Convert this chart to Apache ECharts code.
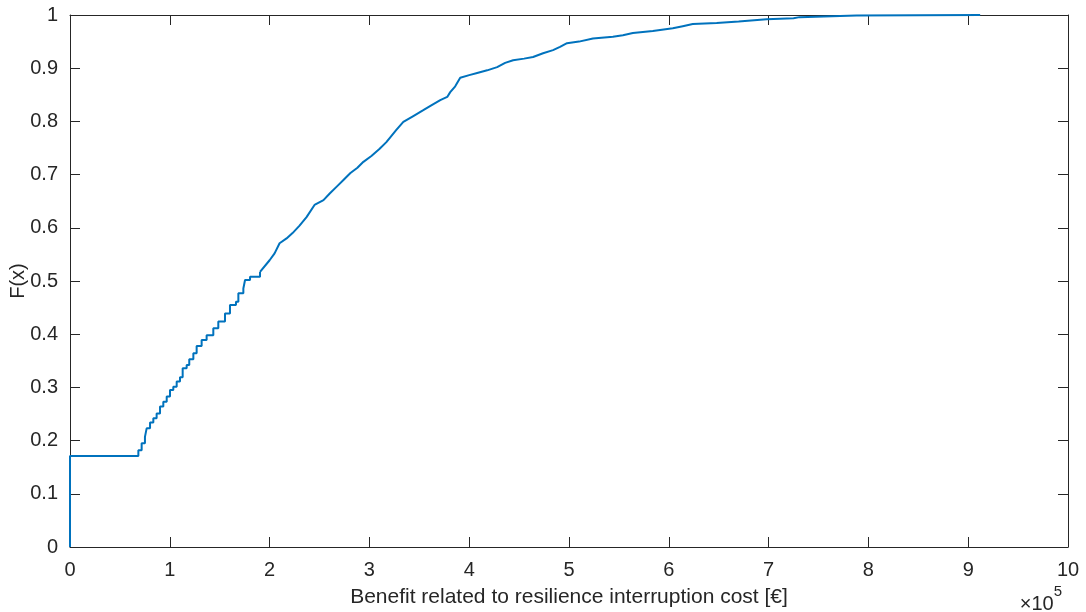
<!DOCTYPE html>
<html>
<head>
<meta charset="utf-8">
<script src="https://cdn.jsdelivr.net/npm/echarts@6/dist/echarts.min.js"></script>
<style>
html,body{margin:0;padding:0;background:#fff;}
#chart{width:1086px;height:612px;}
</style>
</head>
<body>
<div id="chart"></div>
<script>
// Benefit values in units of 10^5 € — lower, coarse-step part of the ECDF
const lowerX = [
  0, 0, 0.685, 0.718, 0.751, 0.768, 0.802, 0.835, 0.868, 0.902, 0.935, 0.969,
  1.002, 1.035, 1.069, 1.102, 1.129, 1.169, 1.195, 1.236, 1.269, 1.319, 1.369,
  1.436, 1.486, 1.553, 1.603, 1.663, 1.687, 1.737, 1.754, 1.804, 1.904
];
const lowerF = [
  0, 0.171, 0.182, 0.195, 0.207, 0.223, 0.234, 0.242, 0.251, 0.264, 0.273, 0.283,
  0.295, 0.301, 0.311, 0.319, 0.336, 0.342, 0.353, 0.364, 0.378, 0.389, 0.398,
  0.411, 0.424, 0.439, 0.455, 0.461, 0.477, 0.486, 0.502, 0.508, 0.517
];
// Upper part of the ECDF (fine steps, read as a curve)
const upperX = [
  1.904, 2.00, 2.05, 2.10, 2.17, 2.23, 2.30, 2.37, 2.45, 2.54, 2.60, 2.67, 2.74, 2.81,
  2.88, 2.94, 3.02, 3.10, 3.17, 3.27, 3.34, 3.44, 3.54, 3.62, 3.71, 3.78, 3.81,
  3.86, 3.91, 4.00, 4.08, 4.18, 4.28, 4.36, 4.44, 4.55, 4.64, 4.74, 4.84, 4.91,
  4.98, 5.10, 5.24, 5.44, 5.54, 5.64, 5.84, 6.04, 6.14, 6.24, 6.48, 6.70, 6.98,
  7.25, 7.31, 7.88, 9.12
];
const upperF = [
  0.517, 0.539, 0.552, 0.571, 0.580, 0.590, 0.604, 0.620, 0.643, 0.652, 0.664, 0.677, 0.690, 0.703,
  0.713, 0.724, 0.735, 0.748, 0.761, 0.784, 0.799, 0.810, 0.821, 0.830, 0.840, 0.846, 0.855,
  0.866, 0.882, 0.887, 0.891, 0.896, 0.902, 0.910, 0.915, 0.918, 0.921, 0.928, 0.934, 0.940,
  0.947, 0.950, 0.956, 0.959, 0.962, 0.966, 0.970, 0.975, 0.979, 0.983, 0.985, 0.988, 0.992,
  0.994, 0.996, 0.999, 1.0
];
const xTickLabels = ['0','1','2','3','4','5','6','7','8','9','10'];
const yTickLabels = ['0','0.1','0.2','0.3','0.4','0.5','0.6','0.7','0.8','0.9','1'];

const lowerData = lowerX.map((x, i) => [x, lowerF[i]]);
const upperData = upperX.map((x, i) => [x, upperF[i]]);
const axisColor = '#262626';
const lineColor = '#0072BD';
const font = 'Liberation Sans, Arial, Helvetica, sans-serif';

const chart = echarts.init(document.getElementById('chart'), null, {renderer: 'canvas'});
const baseAxisLine = {show: true, onZero: false, lineStyle: {color: axisColor, width: 1}};
const baseTick = {show: true, inside: true, length: 10, lineStyle: {color: axisColor, width: 1}};
chart.setOption({
  animation: false,
  backgroundColor: '#ffffff',
  grid: {left: 70, right: 18, top: 15, bottom: 65, containLabel: false, outerBoundsMode: 'none'},
  xAxis: [{
    type: 'value', min: 0, max: 10, interval: 1, position: 'bottom',
    axisLine: baseAxisLine, axisTick: baseTick, splitLine: {show: false},
    axisLabel: {color: axisColor, fontSize: 20, fontFamily: font, margin: 13,
      formatter: (v) => xTickLabels[Math.round(v)]},
    name: 'Benefit related to resilience interruption cost [€]',
    nameLocation: 'middle', nameGap: 40, nameMoveOverlap: false,
    nameTextStyle: {color: axisColor, fontSize: 21, fontFamily: font}
  }, {
    type: 'value', min: 0, max: 10, interval: 1, position: 'top',
    axisLine: baseAxisLine, axisTick: baseTick, splitLine: {show: false},
    axisLabel: {show: false}
  }],
  yAxis: [{
    type: 'value', min: 0, max: 1, interval: 0.1, position: 'left',
    axisLine: baseAxisLine, axisTick: baseTick, splitLine: {show: false},
    axisLabel: {color: axisColor, fontSize: 20, fontFamily: font, margin: 12,
      formatter: (v) => yTickLabels[Math.round(v * 10)]},
    name: 'F(x)', nameLocation: 'middle', nameGap: 42, nameRotate: 90, nameMoveOverlap: false,
    nameTextStyle: {color: axisColor, fontSize: 20, fontFamily: font}
  }, {
    type: 'value', min: 0, max: 1, interval: 0.1, position: 'right',
    axisLine: baseAxisLine, axisTick: baseTick, splitLine: {show: false},
    axisLabel: {show: false}
  }],
  series: [{
    type: 'line', xAxisIndex: 0, yAxisIndex: 0,
    data: lowerData, step: 'end', showSymbol: false, symbol: 'none',
    lineStyle: {color: lineColor, width: 2}, z: 1
  }, {
    type: 'line', xAxisIndex: 0, yAxisIndex: 0,
    data: upperData, showSymbol: false, symbol: 'none',
    lineStyle: {color: lineColor, width: 2}, z: 1
  }],
  graphic: [{
    type: 'text', right: 24, top: 584,
    style: {
      text: '{a|×10}{b|5}',
      rich: {
        a: {fontSize: 20, fontFamily: font, fill: axisColor, verticalAlign: 'bottom', padding: [10, 0, 0, 0]},
        b: {fontSize: 15, fontFamily: font, fill: axisColor, verticalAlign: 'top'}
      }
    }
  }]
});
</script>
</body>
</html>
